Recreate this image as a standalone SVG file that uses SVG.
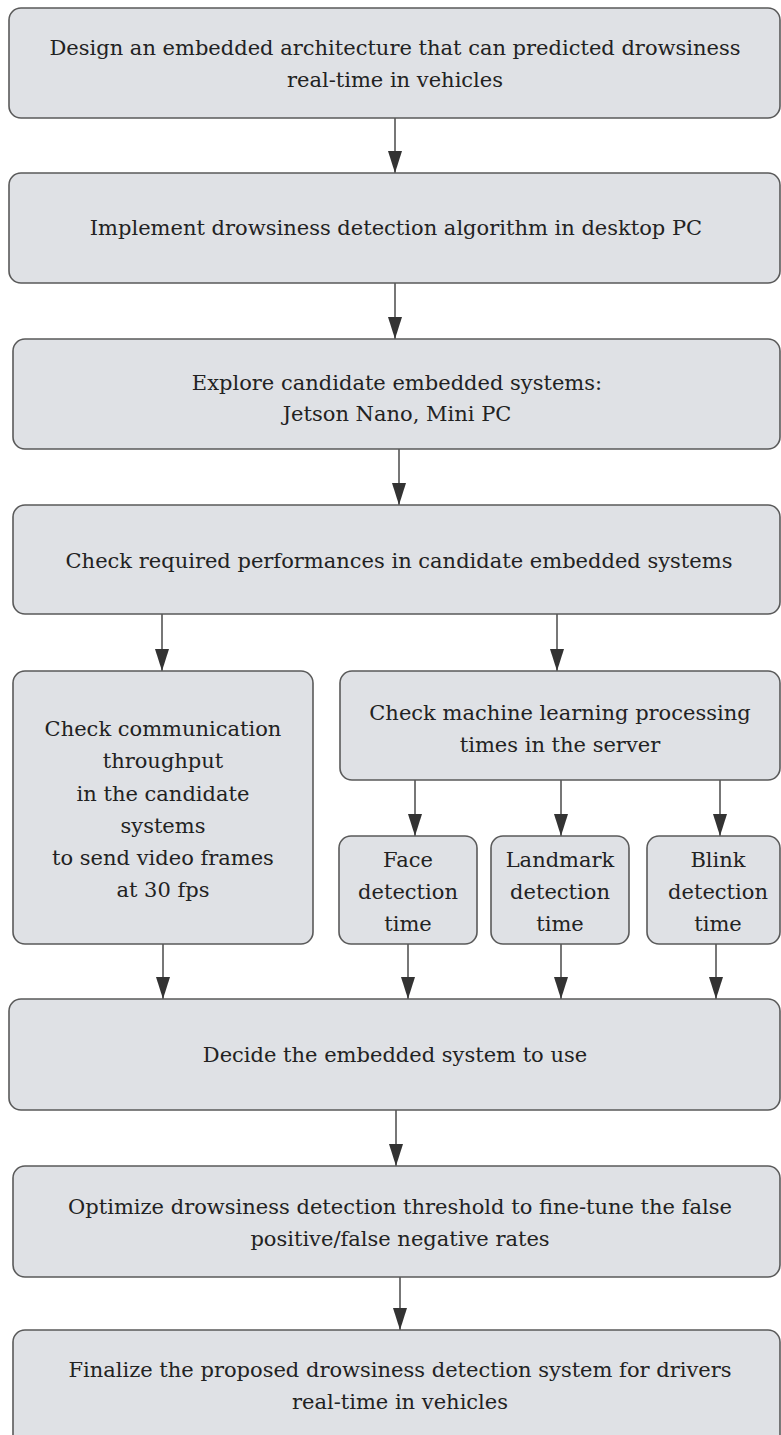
<svg xmlns="http://www.w3.org/2000/svg" width="781" height="1435" viewBox="0 0 781 1435">
<style>
.box{fill:#dfe1e5;stroke:#5a5a5a;stroke-width:1.6}
.t{font-family:"DejaVu Serif","Liberation Serif",serif;font-size:21px;fill:#222;text-anchor:middle}
.c{stroke:#555;stroke-width:1.6;fill:none;marker-end:url(#ah)}
</style>
<defs>
<marker id="ah" markerUnits="userSpaceOnUse" markerWidth="22" markerHeight="14" viewBox="0 0 22 14" refX="22" refY="7" orient="auto">
<path d="M0,0 L22,7 L0,14 Z" fill="#333"/>
</marker>
</defs>
<rect width="781" height="1435" fill="#fff"/>
<g id="connectors">
<line class="c" x1="395" y1="118" x2="395" y2="173"/>
<line class="c" x1="395" y1="283" x2="395" y2="339"/>
<line class="c" x1="399" y1="449" x2="399" y2="505"/>
<line class="c" x1="162" y1="614" x2="162" y2="671"/>
<line class="c" x1="557" y1="614" x2="557" y2="671"/>
<line class="c" x1="415" y1="780" x2="415" y2="836"/>
<line class="c" x1="561" y1="780" x2="561" y2="836"/>
<line class="c" x1="720" y1="780" x2="720" y2="836"/>
<line class="c" x1="163" y1="944" x2="163" y2="999"/>
<line class="c" x1="408" y1="944" x2="408" y2="999"/>
<line class="c" x1="561" y1="944" x2="561" y2="999"/>
<line class="c" x1="716" y1="944" x2="716" y2="999"/>
<line class="c" x1="396" y1="1110" x2="396" y2="1166"/>
<line class="c" x1="400" y1="1277" x2="400" y2="1330"/>
</g>
<g id="n1"><rect class="box" x="9" y="8" width="771" height="110" rx="12"/>
<text class="t" x="395" y="55">Design an embedded architecture that can predicted drowsiness</text>
<text class="t" x="395" y="87">real-time in vehicles</text></g>
<g id="n2"><rect class="box" x="9" y="173" width="771" height="110" rx="12"/>
<text class="t" x="396" y="235">Implement drowsiness detection algorithm in desktop PC</text></g>
<g id="n3"><rect class="box" x="13" y="339" width="767" height="110" rx="12"/>
<text class="t" x="397" y="390">Explore candidate embedded systems:</text>
<text class="t" x="397" y="421">Jetson Nano, Mini PC</text></g>
<g id="n4"><rect class="box" x="13" y="505" width="767" height="109" rx="12"/>
<text class="t" x="399" y="568">Check required performances in candidate embedded systems</text></g>
<g id="n5"><rect class="box" x="13" y="671" width="300" height="273" rx="12"/>
<text class="t" x="163" y="736">Check communication</text>
<text class="t" x="163" y="768">throughput</text>
<text class="t" x="163" y="801">in the candidate</text>
<text class="t" x="163" y="833">systems</text>
<text class="t" x="163" y="865">to send video frames</text>
<text class="t" x="163" y="897">at 30 fps</text></g>
<g id="n6"><rect class="box" x="340" y="671" width="440" height="109" rx="12"/>
<text class="t" x="560" y="720">Check machine learning processing</text>
<text class="t" x="560" y="752">times in the server</text></g>
<g id="n7"><rect class="box" x="339" y="836" width="138" height="108" rx="12"/>
<text class="t" x="408" y="867">Face</text>
<text class="t" x="408" y="899">detection</text>
<text class="t" x="408" y="931">time</text></g>
<g id="n8"><rect class="box" x="491" y="836" width="138" height="108" rx="12"/>
<text class="t" x="560" y="867">Landmark</text>
<text class="t" x="560" y="899">detection</text>
<text class="t" x="560" y="931">time</text></g>
<g id="n9"><rect class="box" x="647" y="836" width="133" height="108" rx="12"/>
<text class="t" x="718" y="867">Blink</text>
<text class="t" x="718" y="899">detection</text>
<text class="t" x="718" y="931">time</text></g>
<g id="n10"><rect class="box" x="9" y="999" width="771" height="111" rx="12"/>
<text class="t" x="395" y="1062">Decide the embedded system to use</text></g>
<g id="n11"><rect class="box" x="13" y="1166" width="767" height="111" rx="12"/>
<text class="t" x="400" y="1214">Optimize drowsiness detection threshold to fine-tune the false</text>
<text class="t" x="400" y="1246">positive/false negative rates</text></g>
<g id="n12"><rect class="box" x="13" y="1330" width="767" height="120" rx="12"/>
<text class="t" x="400" y="1377">Finalize the proposed drowsiness detection system for drivers</text>
<text class="t" x="400" y="1409">real-time in vehicles</text></g>
</svg>
